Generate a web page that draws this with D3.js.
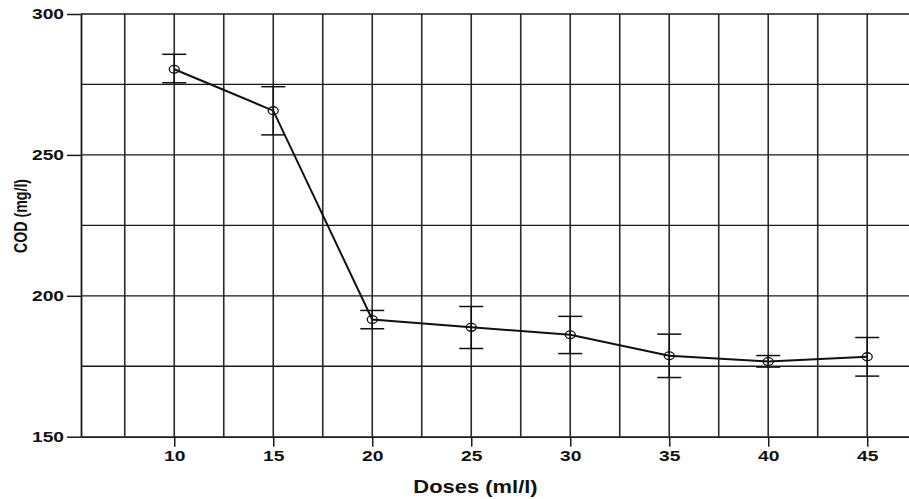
<!DOCTYPE html>
<html>
<head>
<meta charset="utf-8">
<script src="https://cdn.jsdelivr.net/npm/d3@7"></script>
<style>
  html, body { margin: 0; padding: 0; background: #fff; }
  svg { display: block; }
</style>
</head>
<body>
<svg id="chart" width="909" height="499"></svg>
<script>
// ---- data ----
const doses = [10, 15, 20, 25, 30, 35, 40, 45];
const cod = [280.4, 265.7, 191.6, 188.8, 186.2, 178.7, 176.7, 178.4];
const codUpper = [285.7, 274.2, 194.8, 196.2, 192.7, 186.4, 178.8, 185.2];
const codLower = [275.6, 257.1, 188.3, 181.3, 179.5, 171.0, 174.7, 171.5];
const yTicks = [150, 200, 250, 300];
const yGrid = [175, 200, 225, 250, 275, 300];
const xGrid = [7.5, 10, 12.5, 15, 17.5, 20, 22.5, 25, 27.5, 30, 32.5, 35, 37.5, 40, 42.5, 45];
const xDomain = [5.29, 47.11];
const yDomain = [150, 300];

(function () {
const svg = d3.select("#chart");
const pL = 81, pR = 909, pT = 14, pB = 436.7;
const sx = 1.24; // horizontal stretch of the reference text

const x = d3.scaleLinear().domain(xDomain).range([pL, pR]);
const y = d3.scaleLinear().domain(yDomain).range([pB, pT]);

// gridlines
svg.append("g").selectAll("line").data(xGrid).join("line")
  .attr("x1", d => x(d)).attr("x2", d => x(d))
  .attr("y1", pT).attr("y2", pB)
  .attr("stroke", "#2a2a2a").attr("stroke-width", 1.6);
svg.append("g").selectAll("line").data(yGrid).join("line")
  .attr("x1", pL).attr("x2", pR)
  .attr("y1", d => y(d)).attr("y2", d => y(d))
  .attr("stroke", "#1a1a1a").attr("stroke-width", 1.3);

const tickFont = "bold 15.5px 'Liberation Sans', Arial, sans-serif";

// y axis
const yAxis = svg.append("g").attr("transform", `translate(${pL},0)`)
  .call(d3.axisLeft(y).tickValues(yTicks).tickSize(14).tickPadding(3).tickSizeOuter(0));
yAxis.select(".domain").attr("stroke", "#1a1a1a").attr("stroke-width", 1.8);
yAxis.selectAll(".tick line").attr("stroke", "#1a1a1a").attr("stroke-width", 1.5);
yAxis.selectAll(".tick text")
  .style("font", tickFont).attr("fill", "#111")
  .attr("x", -17 / sx).attr("transform", `scale(${sx},1)`);

// x axis
const xAxis = svg.append("g").attr("transform", `translate(0,${pB})`)
  .call(d3.axisBottom(x).tickValues(doses).tickSize(10).tickPadding(3).tickSizeOuter(0));
xAxis.select(".domain").attr("stroke", "#1a1a1a").attr("stroke-width", 1.8);
xAxis.selectAll(".tick line").attr("stroke", "#1a1a1a").attr("stroke-width", 1.5);
xAxis.selectAll(".tick text")
  .style("font", tickFont).attr("fill", "#111")
  .attr("transform", `scale(${sx},1)`);

// error bars
const eb = svg.append("g").attr("stroke", "#111").attr("stroke-width", 1.5);
doses.forEach((d, i) => {
  const cx = x(d);
  eb.append("line").attr("x1", cx).attr("x2", cx)
    .attr("y1", y(codUpper[i])).attr("y2", y(codLower[i]));
  eb.append("line").attr("x1", cx - 12).attr("x2", cx + 12)
    .attr("y1", y(codUpper[i])).attr("y2", y(codUpper[i]));
  eb.append("line").attr("x1", cx - 12).attr("x2", cx + 12)
    .attr("y1", y(codLower[i])).attr("y2", y(codLower[i]));
});

// line
const pts = doses.map((d, i) => [d, cod[i]]);
svg.append("path").datum(pts)
  .attr("d", d3.line().x(p => x(p[0])).y(p => y(p[1])))
  .attr("fill", "none").attr("stroke", "#111").attr("stroke-width", 2);

// markers
svg.append("g").selectAll("ellipse").data(pts).join("ellipse")
  .attr("cx", p => x(p[0])).attr("cy", p => y(p[1]))
  .attr("rx", 5).attr("ry", 3.9)
  .attr("fill", "none").attr("stroke", "#111").attr("stroke-width", 1.3);

// axis titles
svg.append("text")
  .attr("transform", `translate(475.5,493) scale(${sx},1)`)
  .attr("text-anchor", "middle")
  .style("font", "bold 17.7px 'Liberation Sans', Arial, sans-serif")
  .attr("fill", "#111")
  .text("Doses (ml/l)");

svg.append("text")
  .attr("transform", `translate(27.3,216) rotate(-90) scale(1,${sx})`)
  .attr("text-anchor", "middle")
  .style("font", "bold 14.2px 'Liberation Sans', Arial, sans-serif")
  .attr("fill", "#111")
  .text("COD (mg/l)");
})();
</script>
</body>
</html>
